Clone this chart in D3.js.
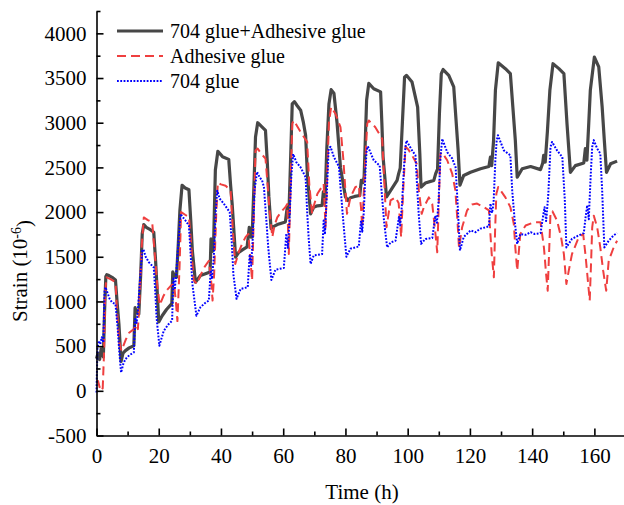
<!DOCTYPE html>
<html>
<head>
<meta charset="utf-8">
<script src="https://cdn.jsdelivr.net/npm/d3@7/dist/d3.min.js"></script>
<style>
  body { margin: 0; background: #fff; }
  svg { display: block; font-family: "Liberation Serif", "Times New Roman", serif; }
</style>
</head>
<body>
<div id="chart"></div>
<script>
// [time (h), strain (1e-6)]
const combined = [
  [0,360],[0.5,420],[1,350],[1.5,470],[2.2,380],[2.6,900],[3.0,1280],[3.3,1300],[4,1290],[5,1270],[6.1,1240],[6.6,1000],[7.2,750],[7.9,330],[8.5,420],[9.3,450],[10.5,480],[12,505],[12.4,930],[12.8,880],[13.6,860],[14.2,1300],[14.7,1760],[15.2,1860],[16,1830],[17,1810],[18.4,1775],[19,1450],[19.5,1120],[20,770],[21.1,840],[22.5,910],[24.2,975],[24.5,1330],[25,1290],[25.7,1270],[26.3,1650],[26.8,2020],[27.5,2300],[28.5,2270],[29.7,2250],[30.3,1900],[30.8,1570],[31.8,1215],[33.4,1290],[35,1310],[36.5,1330],[36.8,1700],[37.2,1560],[37.6,1600],[38.2,2470],[39,2680],[40.5,2620],[42.5,2590],[43.1,2300],[43.6,2090],[44.7,1495],[45.7,1550],[47,1580],[48.4,1610],[49.1,1830],[49.6,1720],[50,1720],[50.6,2300],[51.1,2840],[51.8,3000],[53,2960],[54.3,2915],[54.9,2550],[55.4,2170],[56.1,1815],[57,1840],[58.1,1860],[60.7,1890],[61.3,2055],[61.8,1945],[62.3,2500],[62.9,3210],[63.6,3235],[64.5,3190],[65.6,3140],[66.5,3000],[67.2,2860],[67.8,2400],[68.8,1980],[69.8,2055],[71,2070],[72.5,2075],[72.9,2225],[73.4,2100],[74,2700],[74.7,3210],[75.4,3370],[76.3,3330],[77.3,3000],[78.4,2500],[80,2170],[80.8,2130],[81.6,2160],[83,2175],[84.6,2185],[85.1,2355],[85.6,2330],[86.0,2390],[86.8,3250],[87.5,3440],[89.1,3380],[91.3,3345],[91.7,3000],[92.1,2615],[93.2,2170],[94.5,2240],[96.6,2355],[97.1,2430],[97.6,2490],[98.3,3000],[99,3510],[99.6,3530],[101.4,3455],[103.2,3175],[103.9,2655],[104.3,2280],[105.7,2325],[108.4,2355],[109,2430],[109.6,2480],[110.2,3100],[110.8,3550],[111.4,3595],[113.2,3530],[114.8,3400],[115.6,3000],[116.2,2700],[116.8,2300],[118,2410],[120.2,2445],[123.4,2485],[126.1,2510],[126.6,2615],[127,2520],[127.6,2800],[128.2,3365],[129.1,3670],[131.4,3605],[133,3550],[133.8,3175],[134.6,2800],[135.2,2390],[136.8,2485],[139.5,2510],[142.7,2475],[143.4,2550],[143.7,2635],[144.2,2560],[144.9,2900],[145.7,3365],[146.7,3660],[148.6,3605],[150.2,3550],[151.2,2990],[152.3,2445],[153.9,2520],[156.6,2550],[157.1,2710],[157.6,2580],[158.2,3000],[158.7,3365],[160,3735],[161.4,3625],[162.5,3175],[163.2,2800],[163.9,2445],[165.2,2540],[167.3,2570]
];

const adhesive = [
  [0,100],[0.5,110],[1,40],[1.5,0],[2,30],[2.4,400],[2.8,1100],[3.2,1270],[4.5,1250],[6.1,1215],[6.6,900],[7.3,550],[8,450],[8.6,500],[9.5,580],[10.5,650],[12,690],[12.7,740],[13.3,690],[13.8,980],[14.5,1600],[15.2,1940],[16.5,1910],[17.9,1885],[18.8,1500],[19.5,1200],[20.3,960],[21.5,1060],[22.7,1130],[24,1180],[24.9,1200],[25.5,1000],[26,780],[26.7,1400],[27.2,2000],[28.5,1970],[29.7,1945],[30.5,1600],[31.2,1240],[32.3,1195],[33.5,1300],[34.8,1390],[36.1,1455],[36.8,1250],[37.3,1010],[37.8,1300],[38.5,2000],[39,2330],[40,2310],[41.5,2295],[43.1,2240],[43.8,1800],[44.6,1420],[45.8,1560],[46.8,1645],[47.9,1720],[48.8,1755],[49.5,1450],[50,1235],[50.5,1900],[51.1,2690],[51.8,2710],[53,2650],[54.3,2600],[55,2300],[55.6,2020],[56.5,1720],[57.2,1850],[58.1,1940],[59.5,2010],[60.7,2055],[61.3,2090],[61.8,1530],[62.3,2200],[62.9,2990],[63.4,3025],[64.5,2960],[65.6,2895],[67.7,2785],[68.4,2300],[69.3,1980],[70,2090],[71,2205],[72.2,2270],[73,2315],[73.6,1830],[74.2,2500],[74.7,3000],[75.4,3175],[76.8,3100],[78.4,2950],[79.3,2600],[80.5,1980],[81.6,2165],[83.2,2280],[84.3,2300],[85,2050],[85.4,1830],[86,2300],[87,2990],[87.5,3025],[89.6,2950],[91.8,2820],[92.4,2400],[93.2,1830],[94.5,2130],[96.1,2165],[97.1,2100],[97.9,1720],[98.5,2200],[99.3,2730],[100.2,2700],[101.4,2635],[102.9,2540],[103.6,2240],[104.5,1980],[105.2,2055],[106.8,2165],[107.9,2090],[108.8,1800],[109.5,1550],[110,2100],[110.5,2650],[111,2670],[112.7,2580],[114.3,2430],[115.3,2250],[116,1900],[116.5,1600],[117.5,1830],[119.1,2020],[120.7,2085],[122.3,2095],[124.5,2055],[126.1,2020],[127,1530],[127.7,1270],[128.1,1800],[128.5,2205],[129.1,2280],[131.4,2165],[133,2055],[134.1,1870],[134.6,1600],[135.2,1345],[136.2,1755],[137.9,1850],[140.5,1885],[142.7,1885],[143.8,1600],[144.5,1300],[145,1120],[145.5,1600],[145.9,2000],[146.5,2010],[148,1905],[149.3,1720],[150.2,1530],[151,1195],[151.8,1350],[152.8,1530],[155,1720],[156.4,1755],[157.2,1500],[157.7,1310],[158.5,1010],[159,1500],[159.3,1830],[159.8,1960],[160.9,1830],[161.9,1605],[162.8,1350],[163.8,1120],[164.6,1455],[166.2,1605],[167.3,1680]
];

const glue704 = [
  [0,-20],[0.3,480],[0.8,560],[1.2,520],[1.7,600],[2.2,540],[2.6,1120],[2.9,1160],[3.5,1100],[4.2,1030],[5,990],[6.1,970],[6.8,700],[7.3,450],[7.9,205],[8.6,300],[9.3,355],[10.6,400],[12,430],[12.4,820],[12.9,760],[13.3,900],[14,1250],[14.7,1570],[15.1,1580],[15.8,1500],[16.8,1440],[18.4,1380],[18.9,1100],[19.3,820],[20.2,505],[21.6,670],[23,740],[24.3,785],[24.7,1270],[25.2,1150],[25.7,1350],[26.4,1700],[27,1980],[27.6,1950],[28.7,1900],[29.7,1850],[30.3,1500],[30.8,1200],[32.1,840],[33.4,935],[34.8,980],[36.1,1010],[36.7,1350],[37.1,1250],[37.7,1500],[38.3,2000],[38.8,2240],[39.6,2150],[40.9,2095],[42.8,2000],[43.4,1700],[44,1300],[45,1030],[46.3,1140],[48.6,1160],[49.2,1510],[49.7,1400],[50.2,1700],[50.8,2250],[51.6,2450],[52.4,2390],[53.2,2355],[53.8,2280],[54.6,1900],[55.2,1600],[56.2,1240],[57.5,1355],[60.2,1375],[61,1760],[61.5,1600],[62,1900],[62.6,2400],[63.2,2650],[64.2,2560],[65.6,2500],[67.2,2390],[67.7,2000],[68.2,1700],[68.8,1420],[69.8,1515],[72.5,1530],[73,1905],[73.4,1750],[73.9,2100],[74.6,2710],[75.2,2730],[76.3,2615],[77.9,2510],[78.6,2200],[79.3,1900],[80.3,1500],[81.6,1590],[84.3,1615],[85,1905],[85.4,1780],[85.9,2000],[86.5,2500],[86.8,2690],[87.2,2735],[89.1,2580],[91,2520],[91.7,2200],[92.4,1900],[93.4,1605],[94.5,1660],[96.1,1680],[97.2,1945],[97.6,1850],[98.2,2100],[98.8,2500],[99.3,2730],[99.6,2800],[101.4,2690],[102.5,2635],[103.1,2240],[103.6,1950],[104.3,1645],[105.7,1700],[107.9,1710],[108.9,1960],[109.4,1880],[109.9,2100],[110.5,2600],[111.1,2820],[112.7,2670],[114.3,2600],[115.4,2500],[116,2130],[116.8,1570],[118,1720],[120.2,1795],[121.8,1775],[123.4,1815],[126.1,1840],[126.6,2095],[127.1,1990],[127.6,2100],[128.2,2600],[128.6,2800],[129,2860],[130.9,2690],[133,2635],[133.6,2240],[134.4,1900],[135.2,1645],[136.2,1755],[137.9,1745],[139.5,1775],[140.8,1755],[142.7,1765],[143.5,1950],[144,2055],[144.5,1900],[145.2,2200],[145.9,2730],[146.4,2785],[148,2690],[149.7,2615],[150.5,2130],[151,1605],[152.8,1700],[155,1740],[156.6,1765],[157.2,1950],[157.7,2075],[158.2,1920],[158.8,2400],[159.3,2730],[159.8,2805],[160.9,2710],[161.9,2655],[162.5,2240],[163.2,1605],[164.6,1680],[166.2,1740],[167.3,1765]
];

const seriesNames = ['704 glue+Adhesive glue', 'Adhesive glue', '704 glue'];
const xTicks = [0, 20, 40, 60, 80, 100, 120, 140, 160];
const xMinorTicks = [10, 30, 50, 70, 90, 110, 130, 150];
const yTicks = [-500, 0, 500, 1000, 1500, 2000, 2500, 3000, 3500, 4000];
const yMinorTicks = [-250, 250, 750, 1250, 1750, 2250, 2750, 3250, 3750, 4250];

const width = 624, height = 505;
const serif = '"Liberation Serif", "Times New Roman", serif';

const svg = d3.select('#chart').append('svg')
    .attr('width', width)
    .attr('height', height);

const x = d3.scaleLinear().domain([0, 170]).range([96.5, 625.5]);
const y = d3.scaleLinear().domain([-500, 4250]).range([435.5, 11]);

// styles for the three series
const styles = [
    { data: combined, color: '#474747', width: 3.2, dash: null },
    { data: adhesive, color: '#ef3f3f', width: 2,   dash: '9,5' },
    { data: glue704,  color: '#0000ff', width: 2,   dash: '1.8,1.5' }
];

const line = d3.line()
    .x(d => x(d[0]))
    .y(d => y(d[1]));

styles.forEach(s => {
    svg.append('path')
        .datum(s.data)
        .attr('fill', 'none')
        .attr('stroke', s.color)
        .attr('stroke-width', s.width)
        .attr('stroke-linejoin', 'round')
        .attr('stroke-dasharray', s.dash)
        .attr('d', line);
});

// axes (ticks point inwards)
svg.append('g')
    .attr('class', 'axis')
    .attr('transform', `translate(0,${y(-500)})`)
    .call(d3.axisBottom(x).tickValues(xTicks).tickSize(-7).tickSizeOuter(0)
        .tickPadding(13).tickFormat(d => String(d)));
svg.append('g')
    .attr('transform', `translate(0,${y(-500)})`)
    .call(d3.axisBottom(x).tickValues(xMinorTicks).tickSize(-4).tickSizeOuter(0).tickFormat(''))
    .select('.domain').remove();

svg.append('g')
    .attr('class', 'axis')
    .attr('transform', `translate(${x(0)},0)`)
    .call(d3.axisLeft(y).tickValues(yTicks).tickSize(-7).tickSizeOuter(0)
        .tickPadding(10).tickFormat(d => String(d)));
svg.append('g')
    .attr('transform', `translate(${x(0)},0)`)
    .call(d3.axisLeft(y).tickValues(yMinorTicks).tickSize(-4).tickSizeOuter(0).tickFormat(''))
    .select('.domain').remove();

svg.selectAll('.domain, .tick line')
    .attr('stroke', '#000')
    .attr('stroke-width', 1.6);

svg.selectAll('.axis')
    .attr('font-family', serif)
    .attr('font-size', 21);
svg.selectAll('.tick text')
    .attr('fill', '#000')
    .attr('font-family', serif)
    .attr('font-size', 21);

// axis titles
svg.append('text')
    .attr('x', 362)
    .attr('y', 492)
    .attr('dy', '0.35em')
    .attr('text-anchor', 'middle')
    .attr('font-family', serif)
    .attr('font-size', 21)
    .text('Time (h)');

const yTitle = svg.append('text')
    .attr('transform', 'translate(20,271) rotate(-90)')
    .attr('dy', '0.35em')
    .attr('text-anchor', 'middle')
    .attr('font-family', serif)
    .attr('font-size', 21);
yTitle.append('tspan').text('Strain (10');
yTitle.append('tspan').attr('dy', '-0.45em').attr('font-size', 14).text('-6');
yTitle.append('tspan').attr('dy', '0.45em').text(')');

// legend
const legend = svg.append('g');
seriesNames.forEach((name, i) => {
    const s = styles[i];
    const ly = 31 + i * 25;
    legend.append('line')
        .attr('x1', 117).attr('x2', 163)
        .attr('y1', ly).attr('y2', ly)
        .attr('stroke', s.color)
        .attr('stroke-width', s.width)
        .attr('stroke-dasharray', s.dash);
    legend.append('text')
        .attr('x', 170)
        .attr('y', ly)
        .attr('dy', '0.35em')
        .attr('font-family', serif)
        .attr('font-size', 20)
        .text(name);
});
</script>
</body>
</html>
